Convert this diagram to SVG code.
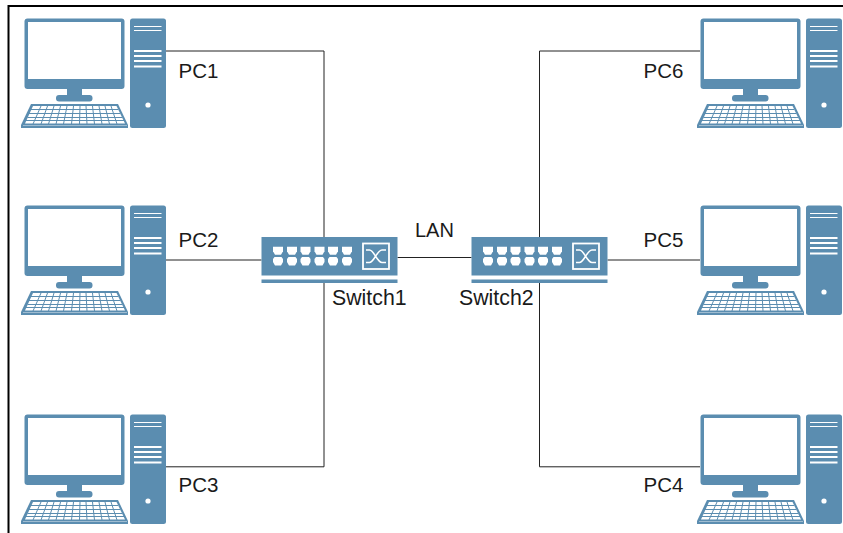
<svg xmlns="http://www.w3.org/2000/svg" width="843" height="533" viewBox="0 0 843 533">
<style>
.b{fill:#5b8db0}
.w{fill:#fff}
.k{stroke:#5b8db0;stroke-width:1;fill:none}
.tw{stroke:#fff;fill:none}
.c{stroke:#222;stroke-width:1;fill:none}
.t{font-family:"Liberation Sans",Arial,sans-serif;font-size:20.500px;fill:#1a1a1a}
.s{font-size:21.300px}
</style>
<defs>
<symbol id="pc" width="843" height="533" viewBox="0 0 843 533" overflow="visible">
<rect class="b" x="24.500" y="18.500" width="100" height="70.500" rx="3"/>
<rect class="w" x="28" y="22" width="93" height="57"/>
<rect class="b" x="67" y="88" width="15" height="9"/>
<rect class="b" x="56" y="95" width="36.500" height="6.500" rx="3"/>
<path class="b" d="M31 104H118L128 125V128H21V125Z"/>
<path class="w" d="M33 106H116.500L125 123.500H25Z"/>
<path class="k" d="M31 109.500H118M29 113.500H120M27.500 117.500H122M26 120.500H124"/>
<path class="k" d="M41 106L33 124M47.500 106L41 124M54 106L48.500 124M60.500 106L56 124M67 106L63.500 124M73.500 106L71.500 124M80 106L79.500 124M86 106L87 124M92.500 106L94.500 124M99 106L102 124M105 106L109.500 124M111 106L117 124"/>
<rect x="23" y="125.300" width="104" height=".7" fill="#fff" opacity=".6"/>
<rect class="b" x="130" y="18.500" width="36" height="109.500" rx="2.500"/>
<path class="tw" d="M134 26.500H161.500M134 30.500H161.500"/>
<path class="tw" stroke-width="2" d="M134 51H161.500M134 56H161.500M134 61H161.500M134 66.500H161.500"/>
<circle class="w" cx="148" cy="105" r="2.600"/>
</symbol>
<path id="pu" class="w" d="M0 0H10V4.500L8 8H2L0 4.500Z"/>
<path id="pd" class="w" d="M1.500 0H8.500L10 2V5L8 8.500H2L0 5V2Z"/>
<symbol id="sw" width="843" height="533" viewBox="0 0 843 533" overflow="visible">
<rect class="b" x="261.500" y="237" width="136" height="38.500"/>
<rect class="b" x="261.500" y="279.500" width="136" height="3.500"/>
<use href="#pu" x="273" y="246.700"/><use href="#pu" x="287" y="246.700"/><use href="#pu" x="300.500" y="246.700"/><use href="#pu" x="314.500" y="246.700"/><use href="#pu" x="328" y="246.700"/><use href="#pu" x="342" y="246.700"/>
<use href="#pd" x="273" y="257"/><use href="#pd" x="287" y="257"/><use href="#pd" x="300.500" y="257"/><use href="#pd" x="314.500" y="257"/><use href="#pd" x="328" y="257"/><use href="#pd" x="342" y="257"/>
<rect x="363" y="243.500" width="26" height="25.500" fill="none" stroke="#fff" stroke-width="1.800"/>
<path d="M366 250H369.500C374 250 377 262.500 382 262.500H386M366 262.500H369.500C374 262.500 377 250 382 250H386" fill="none" stroke="#fff" stroke-width="1.500"/>
</symbol>
</defs>
<g id="frame" fill="none" stroke="#000" stroke-width="2">
<path d="M843 6H8.500V533"/>
</g>
<g id="connectors">
<path class="c" d="M166 51H324V237M166 260H261.500M166 466.800H324V283"/>
<path class="c" d="M397.500 257.500H471.500"/>
<path class="c" d="M700 51H539.500V237M607.500 260H700M700 466.800H539.500V283"/>
</g>
<g id="PC1"><use href="#pc"/><text class="t" x="178.500" y="77.500">PC1</text></g>
<g id="PC2"><use href="#pc" y="187"/><text class="t" x="178.500" y="247">PC2</text></g>
<g id="PC3"><use href="#pc" y="396"/><text class="t" x="178.500" y="492">PC3</text></g>
<g id="PC6"><use href="#pc" x="676"/><text class="t" x="643.500" y="77.500">PC6</text></g>
<g id="PC5"><use href="#pc" x="676" y="187"/><text class="t" x="643.500" y="247">PC5</text></g>
<g id="PC4"><use href="#pc" x="676" y="396"/><text class="t" x="643.500" y="492">PC4</text></g>
<g id="Switch1"><use href="#sw"/><text class="t s" x="332" y="305">Switch1</text></g>
<g id="Switch2"><use href="#sw" x="210"/><text class="t s" x="459" y="305">Switch2</text></g>
<g id="LAN-label"><text class="t" x="415" y="237" style="font-size:20px">LAN</text></g>
</svg>
